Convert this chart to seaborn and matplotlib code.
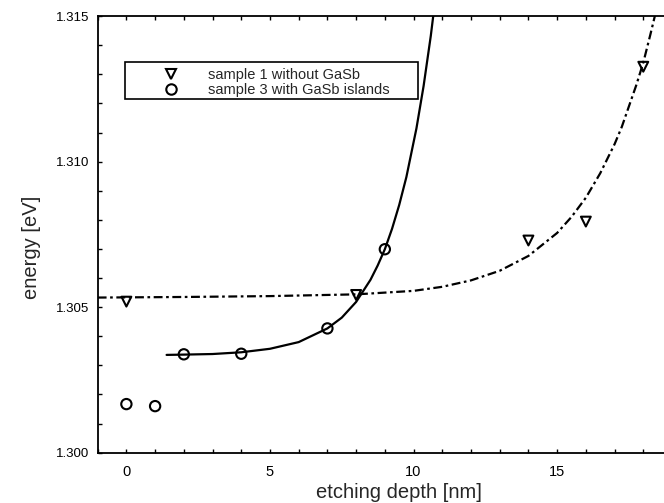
import numpy as np
import pandas as pd
import seaborn as sns
import matplotlib.pyplot as plt
from matplotlib.ticker import MultipleLocator, FixedLocator, FormatStrFormatter
from matplotlib.lines import Line2D
from matplotlib.patches import Rectangle

# measured points
s1_depth = [0, 8, 14, 16, 18]
s1_energy = [1.30519, 1.30542, 1.30729, 1.30794, 1.31326]
s3_depth = [0, 1, 2, 4, 7, 9]
s3_energy = [1.30167, 1.30160, 1.30338, 1.30340, 1.30427, 1.30699]

# fitted curves
fit1_depth = [-1, 2, 5, 8, 10, 11, 12, 13, 14, 15, 15.5, 16, 16.5, 17, 17.25, 17.5,
              17.75, 18, 18.25, 18.5]
fit1_energy = [1.30533, 1.30535, 1.30538, 1.30544, 1.30556, 1.30570, 1.30592, 1.30625,
               1.30676, 1.30755, 1.30810, 1.30876, 1.30960, 1.31060, 1.31119, 1.31190,
               1.31261, 1.31340, 1.31438, 1.31540]
fit3_depth = [1.4, 2, 3, 4, 5, 6, 7, 7.5, 8, 8.5, 8.75, 9, 9.25, 9.5, 9.75, 10.1, 10.35,
              10.6, 10.75]
fit3_energy = [1.30336, 1.30337, 1.30339, 1.30345, 1.30357, 1.30380, 1.30427, 1.30464,
               1.30518, 1.30594, 1.30643, 1.30699, 1.30769, 1.30851, 1.30947, 1.31114,
               1.31260, 1.31432, 1.31552]

x_ticks = [0, 5, 10, 15]
label1 = "sample 1 without GaSb"
label3 = "sample 3 with GaSb islands"

sns.set_theme(style="ticks")
plt.rcParams['font.family'] = ['Liberation Sans', 'DejaVu Sans']

fig = plt.figure(figsize=(6.64, 5.03), dpi=100)
# axes runs past the right edge of the figure (right spine cut off)
ax = fig.add_axes([0.1471, 0.100, 0.9082, 0.868])

sns.lineplot(x=fit3_depth, y=fit3_energy, ax=ax, color="black", lw=1.6, sort=False)
sns.lineplot(x=fit1_depth, y=fit1_energy, ax=ax, color="black", lw=1.6, sort=False,
             linestyle=(0, (4, 1.6, 1.2, 1.6)))
sns.scatterplot(x=s1_depth, y=s1_energy, ax=ax, marker="v", s=50, facecolors="none",
                edgecolor="black", linewidth=1.5, zorder=5)
sns.scatterplot(x=s3_depth, y=s3_energy, ax=ax, marker="o", s=55, facecolors="none",
                edgecolor="black", linewidth=1.5, zorder=5)

ax.set_xlim(-1, 20)
ax.set_ylim(1.300, 1.315)
ax.xaxis.set_major_locator(FixedLocator(x_ticks))
ax.xaxis.set_minor_locator(MultipleLocator(1))
ax.yaxis.set_major_locator(MultipleLocator(0.005))
ax.yaxis.set_minor_locator(MultipleLocator(0.001))
ax.yaxis.set_major_formatter(FormatStrFormatter("%.3f"))
ax.tick_params(which="both", direction="in", length=3, width=1, top=True, right=False,
               labelsize=9.5, pad=6, colors="black")
ax.tick_params(axis="x", labelsize=10.5, pad=9)
for sp in ax.spines.values():
    sp.set_linewidth(1.3)
    sp.set_color("black")

ax.set_xlabel("etching depth [nm]", fontsize=14.5, labelpad=3)
ax.set_ylabel("energy [eV]", fontsize=14.5)
ax.yaxis.set_label_coords(-0.094, 0.47)

# legend without its own frame, box drawn separately
handles = [
    Line2D([], [], marker="v", ls="none", mfc="none", mec="black", mew=1.5, ms=7.5),
    Line2D([], [], marker="o", ls="none", mfc="none", mec="black", mew=1.5, ms=7.5),
]
ax.legend(handles, [label1, label3], loc="upper left",
          bbox_to_anchor=(156 / 664, 1 - 68 / 503), bbox_transform=fig.transFigure,
          borderaxespad=0, borderpad=0, frameon=False,
          fontsize=10.5, handlelength=2.0, handletextpad=1.55, labelspacing=0.1)
fig.patches.append(Rectangle((125 / 664, 1 - 99 / 503), 293 / 664, 37 / 503,
                             transform=fig.transFigure, fill=False, edgecolor="black",
                             linewidth=1.2, zorder=6))

fig.savefig("out.png", dpi=100)
